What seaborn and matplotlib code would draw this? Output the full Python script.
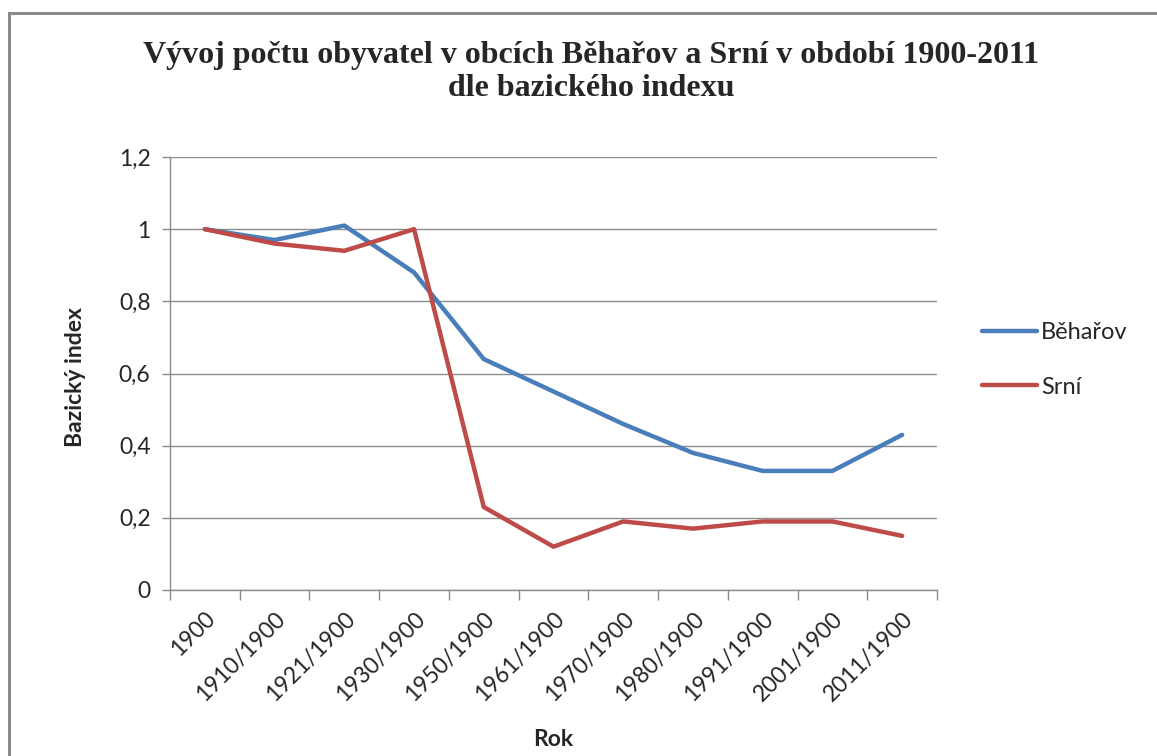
import matplotlib
matplotlib.use("Agg")
import matplotlib.pyplot as plt
from matplotlib.patches import Rectangle
from matplotlib.ticker import FixedLocator, FuncFormatter
import seaborn as sns
import pandas as pd
import numpy as np

# data
roky = ['1900', '1910/1900', '1921/1900', '1930/1900', '1950/1900', '1961/1900',
        '1970/1900', '1980/1900', '1991/1900', '2001/1900', '2011/1900']
beharov = [1.0, 0.97, 1.01, 0.88, 0.64, 0.55, 0.46, 0.38, 0.33, 0.33, 0.43]
srni = [1.0, 0.96, 0.94, 1.0, 0.23, 0.12, 0.19, 0.17, 0.19, 0.19, 0.15]
obce = ['Běhařov', 'Srní']
barvy = ['#4A7EBB', '#BE4B48']

df = pd.DataFrame({
    'Rok': roky * 2,
    'Index': beharov + srni,
    'Obec': [obce[0]] * len(roky) + [obce[1]] * len(roky),
})
df['pos'] = np.tile(np.arange(len(roky)), 2)

sns.set_style('white')
plt.rcParams['font.family'] = ['Lato', 'DejaVu Sans']

fig = plt.figure(figsize=(11.57, 7.56), dpi=100)
ax = fig.add_axes([170 / 1157, 1 - 590 / 756, 767 / 1157, 433 / 756])

sns.lineplot(data=df, x='pos', y='Index', hue='Obec', palette=barvy,
             linewidth=3.2, sort=False, ax=ax, legend=False)

ax.set_xlim(-0.5, len(roky) - 0.5)
ax.set_ylim(0, 1.2)
ax.set_yticks(np.arange(0, 1.21, 0.2))
ax.yaxis.set_major_formatter(FuncFormatter(
    lambda v, p: ('%g' % round(v, 1)).replace('.', ',')))
ax.yaxis.grid(True, color='#8c8c8c', linewidth=1)
ax.set_axisbelow(True)

ax.set_xticks(np.arange(len(roky)))
ax.set_xticklabels(roky, rotation=45, ha='right', rotation_mode='anchor')
ax.xaxis.set_minor_locator(FixedLocator(np.arange(-0.5, len(roky), 1)))
ax.tick_params(axis='x', which='major', length=0, pad=13, labelsize=16.5)
ax.tick_params(axis='x', which='minor', length=7, color='#8c8c8c', width=1,
               bottom=True, direction='out')
ax.tick_params(axis='y', length=6, color='#8c8c8c', width=1, left=True,
               direction='out', labelsize=16.5, pad=8)

for s in ['top', 'right']:
    ax.spines[s].set_visible(False)
for s in ['left', 'bottom']:
    ax.spines[s].set_color('#8c8c8c')
    ax.spines[s].set_linewidth(1)

ax.set_xlabel('Rok', fontsize=16.5, fontweight='bold')
ax.set_ylabel('Bazický index', fontsize=16.5, fontweight='bold')
ax.xaxis.set_label_coords(0.5, -(729 - 590) / 433)
ax.yaxis.set_label_coords(-(170 - 86) / 767, (590 - 377) / 433)

fig.text(591 / 1157, 1 - 72 / 756,
         'Vývoj počtu obyvatel v obcích Běhařov a Srní v období 1900-2011\ndle bazického indexu',
         ha='center', va='center', fontsize=23, fontweight='bold',
         family=['Liberation Serif'], linespacing=1.15)

handles = [plt.Line2D([], [], color=c, linewidth=3.2) for c in barvy]
fig.legend(handles, obce, loc='center left',
           bbox_to_anchor=(961 / 1157, 1 - 360 / 756), frameon=False,
           fontsize=17, handlelength=2.3, handletextpad=0.2, labelspacing=1.4)

fig.patches.append(Rectangle((9 / 1157, -0.1), 1.2, 1 - 13 / 756 + 0.1,
                             transform=fig.transFigure, fill=False,
                             edgecolor='#8a8a8a', linewidth=2.2, clip_on=False))

fig.savefig('out.png', dpi=100)
